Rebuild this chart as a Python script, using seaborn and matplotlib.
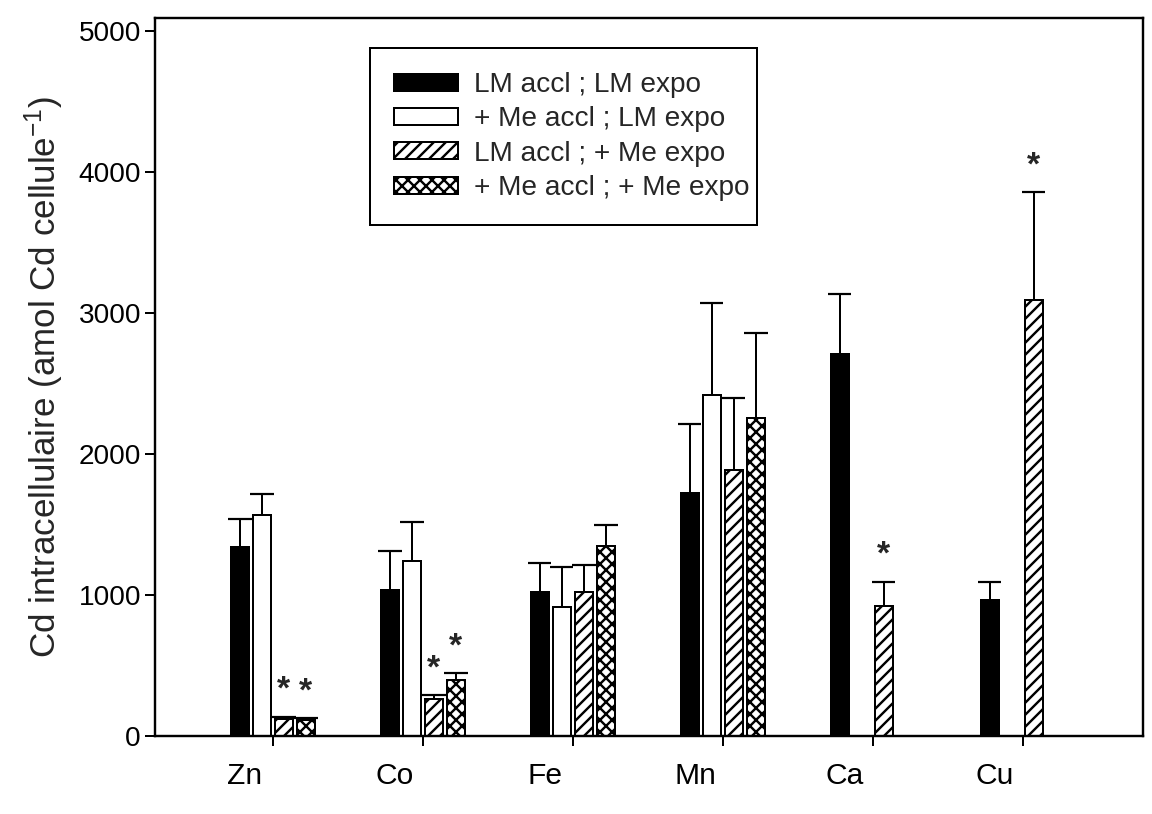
import numpy as np
import pandas as pd
import matplotlib
matplotlib.use("Agg")
import matplotlib.pyplot as plt
import matplotlib.patches as mpatches
from matplotlib.transforms import ScaledTranslation
import seaborn as sns

# ---- data -------------------------------------------------------------
metals = ["Zn", "Co", "Fe", "Mn", "Ca", "Cu"]
conditions = [
    "LM accl ; LM expo",
    "+ Me accl ; LM expo",
    "LM accl ; + Me expo",
    "+ Me accl ; + Me expo",
]

# mean intracellular Cd (amol Cd per cell); NaN = not measured
lm_lm = [1338, 1034, 1024, 1723, 2705, 967]
me_lm = [1565, 1239, 918, 2415, np.nan, np.nan]
lm_me = [120, 262, 1024, 1886, 925, 3093]
me_me = [113, 397, 1349, 2253, np.nan, np.nan]

# standard errors (upper bars only)
lm_lm_se = [199, 276, 205, 487, 431, 128]
me_lm_se = [149, 277, 282, 657, np.nan, np.nan]
lm_me_se = [15, 28, 191, 508, 170, 763]
me_me_se = [14, 49, 148, 607, np.nan, np.nan]

# significant differences (metal, condition)
significant = [
    ("Zn", "LM accl ; + Me expo"),
    ("Zn", "+ Me accl ; + Me expo"),
    ("Co", "LM accl ; + Me expo"),
    ("Co", "+ Me accl ; + Me expo"),
    ("Ca", "LM accl ; + Me expo"),
    ("Cu", "LM accl ; + Me expo"),
]

means = [lm_lm, me_lm, lm_me, me_me]
ses = [lm_lm_se, me_lm_se, lm_me_se, me_me_se]

rows = []
for cond, m_list, s_list in zip(conditions, means, ses):
    for metal, m, s in zip(metals, m_list, s_list):
        rows.append({"metal": metal, "condition": cond, "value": m, "se": s})
df = pd.DataFrame(rows).dropna()
se_lookup = {(r.metal, r.condition): r.se for r in df.itertuples()}

# ---- style ------------------------------------------------------------
sns.set_style("ticks")
plt.rcParams["font.family"] = ["Liberation Sans", "DejaVu Sans"]
plt.rcParams["mathtext.default"] = "regular"
plt.rcParams["hatch.linewidth"] = 2.4
plt.rcParams["hatch.color"] = "black"

fills = ["black", "white", "white", "white"]
hatches = ["", "", "//", "xx"]

fig = plt.figure(figsize=(16, 814 / 72), dpi=72)
ax = fig.add_axes([0.1345, 0.0958, 0.8576, 0.882])

sns.barplot(
    data=df, x="metal", y="value", hue="condition",
    order=metals, hue_order=conditions,
    palette=dict(zip(conditions, fills)), saturation=1,
    width=0.587, gap=0.2, edgecolor="black", linewidth=2,
    errorbar=None, legend=False, ax=ax,
)

# hatches, error bars and significance stars
cap_half = 0.077
for cond, container, hatch in zip(conditions, ax.containers, hatches):
    for patch in container.patches:
        patch.set_hatch(hatch)
        patch.set_edgecolor("black")
        xc = patch.get_x() + patch.get_width() / 2
        h = patch.get_height()
        metal = metals[int(round(xc))]
        se = se_lookup[(metal, cond)]
        top = h + se
        ax.vlines(xc, h, top, color="black", linewidth=2, zorder=3)
        ax.hlines(top, xc - cap_half, xc + cap_half, color="black",
                  linewidth=2.2, zorder=3)
        if (metal, cond) in significant:
            ax.annotate("*", (xc, top), xytext=(0, 18),
                        textcoords="offset points", ha="center",
                        va="baseline", fontsize=34, fontweight="bold")

# axes
ax.set_xlim(-0.787, 5.80)
ax.set_ylim(0, 5090)
ax.set_yticks([0, 1000, 2000, 3000, 4000, 5000])
ax.set_xlabel("")
ax.set_ylabel("Cd intracellulaire (amol Cd cellule$^{-1}$)", fontsize=35,
              labelpad=12)
for side in ["left", "right", "top", "bottom"]:
    ax.spines[side].set_visible(True)
    ax.spines[side].set_linewidth(2.4)
    ax.spines[side].set_color("black")
ax.tick_params(axis="both", direction="out", length=10, width=2,
               colors="black")
ax.tick_params(axis="y", labelsize=28, pad=4)
ax.tick_params(axis="x", labelsize=30, pad=16)
ax.tick_params(top=False, right=False)

shift = ScaledTranslation(-28 / 72, 0, fig.dpi_scale_trans)
for lbl in ax.get_xticklabels():
    lbl.set_transform(lbl.get_transform() + shift)

# legend
handles = [
    mpatches.Patch(facecolor=f, edgecolor="black", hatch=h, linewidth=2)
    for f, h in zip(fills, hatches)
]
leg = ax.legend(
    handles, conditions, loc="upper left",
    bbox_to_anchor=(0.2176, 0.958, 0.392, 0.0), mode="expand",
    fontsize=28, frameon=True, fancybox=False, shadow=False,
    handlelength=2.3, handleheight=0.55, handletextpad=0.55,
    labelspacing=0.3, borderpad=0.85, borderaxespad=0,
)
leg.get_frame().set_edgecolor("black")
leg.get_frame().set_linewidth(2)
leg.get_frame().set_alpha(1)

fig.savefig("out.png", dpi=72, facecolor="white")
